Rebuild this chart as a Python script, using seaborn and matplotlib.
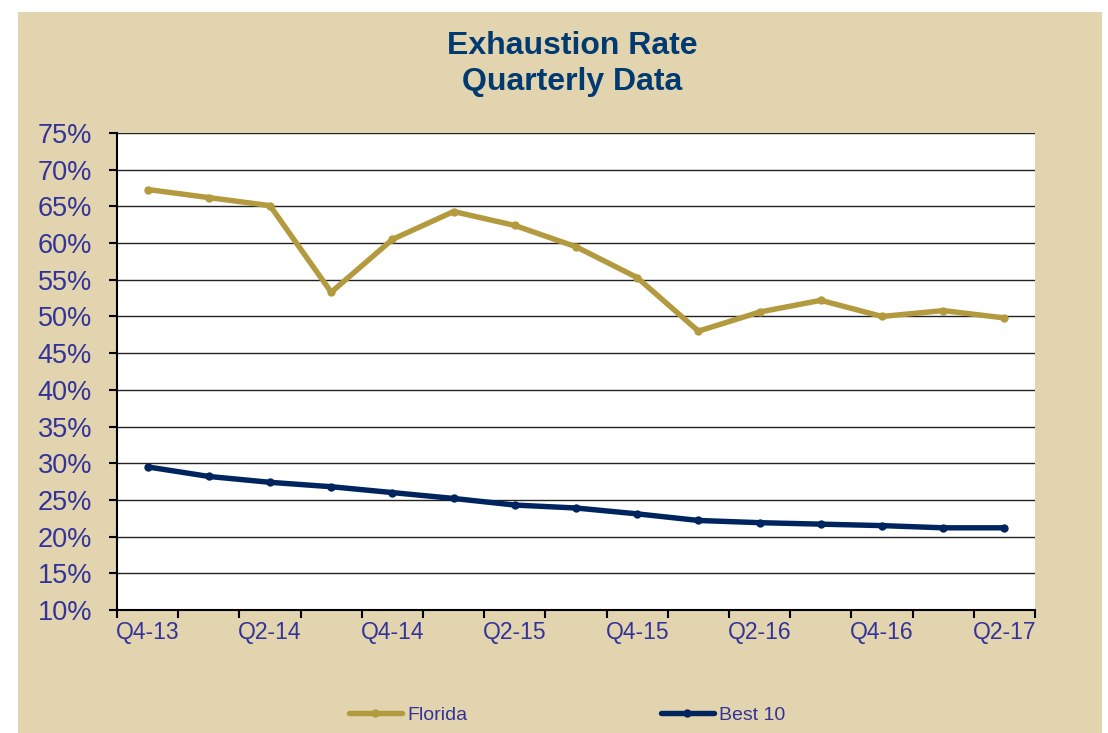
import numpy as np
import pandas as pd
import seaborn as sns
import matplotlib.pyplot as plt
from matplotlib.patches import Rectangle
from matplotlib.ticker import PercentFormatter

# quarterly exhaustion rates (%)
quarters = ['Q4-13', 'Q1-14', 'Q2-14', 'Q3-14', 'Q4-14', 'Q1-15', 'Q2-15', 'Q3-15',
            'Q4-15', 'Q1-16', 'Q2-16', 'Q3-16', 'Q4-16', 'Q1-17', 'Q2-17']
florida = [67.3, 66.2, 65.1, 53.3, 60.5, 64.3, 62.4, 59.5,
           55.3, 48.0, 50.6, 52.2, 50.0, 50.8, 49.8]
best10 = [29.5, 28.2, 27.4, 26.8, 26.0, 25.2, 24.3, 23.9,
          23.1, 22.2, 21.9, 21.7, 21.5, 21.2, 21.2]
tick_labels = ['Q4-13', 'Q2-14', 'Q4-14', 'Q2-15', 'Q4-15', 'Q2-16', 'Q4-16', 'Q2-17']

gold = '#B39A3E'
navy = '#00245E'
text_blue = '#333399'
title_blue = '#003A70'
beige = '#E1D4AE'

sns.set_style('white')
plt.rcParams['font.family'] = ['Liberation Sans', 'DejaVu Sans']

fig = plt.figure(figsize=(11.08, 7.33), dpi=100, facecolor='white')
fig.patches.append(Rectangle((18 / 1108, 0), 1084 / 1108, 721 / 733,
                             transform=fig.transFigure, facecolor=beige,
                             edgecolor='none', zorder=-5))
ax = fig.add_axes([117 / 1108, 123 / 733, 918 / 1108, 477 / 733])
ax.set_facecolor('white')

df = pd.DataFrame({'Quarter': quarters, 'Florida': florida, 'Best 10': best10})
x = np.arange(len(quarters))
sns.lineplot(x=x, y=df['Florida'], ax=ax, color=gold, lw=3.9, marker='o',
             markersize=6, markeredgewidth=0, label='Florida')
sns.lineplot(x=x, y=df['Best 10'], ax=ax, color=navy, lw=3.9, marker='o',
             markersize=6, markeredgewidth=0, label='Best 10')

# y axis
ax.set_ylim(10, 75)
ax.set_yticks(np.arange(10, 80, 5))
ax.yaxis.set_major_formatter(PercentFormatter(decimals=0))
ax.grid(axis='y', color='#222222', lw=1)
ax.set_axisbelow(True)

# x axis: tick marks between categories, labels on every other quarter
ax.set_xlim(-0.5, len(quarters) - 0.5)
ax.set_xticks(np.arange(-0.5, len(quarters), 1.0))
ax.set_xticklabels([])
ax.set_xticks(np.arange(0, len(quarters), 2), minor=True)
ax.set_xticklabels(tick_labels, minor=True)
ax.tick_params(axis='x', which='major', direction='out', length=6, width=1.5,
               color='black', bottom=True)
ax.tick_params(axis='x', which='minor', length=0, pad=8, labelsize=16.5,
               labelcolor=text_blue)
ax.tick_params(axis='y', direction='out', length=6, width=1.5, color='black',
               left=True, pad=12, labelsize=19.5, labelcolor=text_blue)
ax.set_xlabel('')
ax.set_ylabel('')

for side in ['top', 'right']:
    ax.spines[side].set_visible(False)
for side in ['left', 'bottom']:
    ax.spines[side].set_color('black')
    ax.spines[side].set_linewidth(1.5)

fig.text(572 / 1108, 1 - 64 / 733, 'Exhaustion Rate\nQuarterly Data',
         ha='center', va='center', fontsize=23, fontweight='bold',
         color=title_blue, linespacing=1.3)

ax.get_legend().remove()
handles, labels = ax.get_legend_handles_labels()
fig.legend(handles, labels, loc='center', bbox_to_anchor=(567 / 1108, 1 - 715 / 733),
           ncol=2, frameon=False, fontsize=14, labelcolor=text_blue,
           handlelength=2.75, handletextpad=0.25, columnspacing=9.95)

fig.savefig('out.png', dpi=100, facecolor='white')
